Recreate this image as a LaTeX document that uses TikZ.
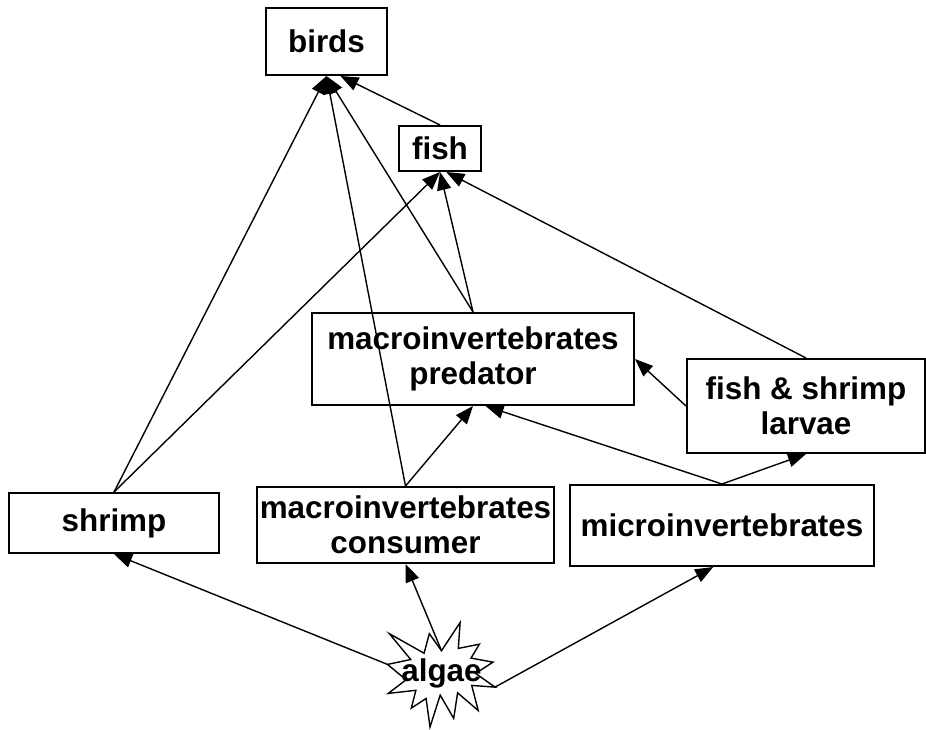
\documentclass[tikz,border=0pt]{standalone}
\usepackage{fontspec}
\setmainfont{Liberation Sans}
\usetikzlibrary{arrows.meta}

\begin{document}
\begin{tikzpicture}[x=0.5pt, y=-0.5pt,
    every node/.style={font=\fontsize{15.7}{17.5}\selectfont\bfseries},
    boite/.style={draw, line width=1pt, inner sep=0pt, align=center},
    fleche/.style={-{Triangle[length=9pt,width=7pt]}, line width=0.7pt}]
        % Cadre
        \useasboundingbox (0,0) rectangle (926,729);

        % Boites
        \node[boite, minimum width=60.5pt, minimum height=33.5pt] (birds) at (326.5,41.5) {birds};
        \node[boite, minimum width=41pt, minimum height=22.5pt] (fish) at (440,148.5) {fish};
        \node[boite, minimum width=161pt, minimum height=46pt] (predator) at (473,359) {macroinvertebrates\\predator};
        \node[boite, minimum width=119pt, minimum height=47pt] (larvae) at (806,406) {fish \& shrimp\\larvae};
        \node[boite, minimum width=105pt, minimum height=30pt] (shrimp) at (114,523) {shrimp};
        \node[boite, minimum width=148.5pt, minimum height=38pt] (consumer) at (405.5,525) {macroinvertebrates\\consumer};
        \node[boite, minimum width=152pt, minimum height=40.5pt] (micro) at (722,525.5) {microinvertebrates};

        % Algues (explosion)
        \filldraw[fill=white, line width=0.7pt] (441.5,650.7) coordinate (algae-n)
            -- (429.3,633.7) -- (424.1,653.2) -- (389.4,633.7) -- (410.7,659.5)
            -- (387.5,664.4) coordinate (algae-w)
            -- (406.1,679.8) -- (388.2,693.4) -- (415.9,690.3) -- (411.3,708.1)
            -- (426.1,698.5) -- (430.0,727) -- (440.2,695.1) -- (453.7,718.4)
            -- (457.6,692.8) -- (478.2,710.5) -- (471.7,685.4)
            -- (495,687.1) coordinate (algae-e)
            -- (475.6,673.4) -- (493.0,662.1) -- (471.0,658.1) -- (479.4,644.2)
            -- (458.3,648.4) -- (460.1,622.5) -- cycle;
        \node[anchor=base, inner sep=0pt] (algae) at (441.5,681) {algae};

        % Fleches vers birds
        \draw[fleche] (shrimp.north) -- (birds.south);
        \draw[fleche] (consumer.north) -- (birds.south);
        \draw[fleche] (predator.north) -- (birds.south);
        \draw[fleche] (fish.north) -- (birds.-68);

        % Fleches vers fish
        \draw[fleche] (shrimp.north) -- (fish.south);
        \draw[fleche] (predator.north) -- (fish.south);
        \draw[fleche] (larvae.north) -- (fish.-75);

        % Fleches vers predator et larvae
        \draw[fleche] (consumer.north) -- (predator.south);
        \draw[fleche] (micro.north) -- (predator.-75);
        \draw[fleche] (larvae.west) -- (predator.east);
        \draw[fleche] (micro.north) -- (larvae.south);

        % Fleches depuis algae
        \draw[fleche] (algae-w) -- (shrimp.south);
        \draw[fleche] (algae-n) -- (consumer.south);
        \draw[fleche] (algae-e) -- (micro.-102);

    \end{tikzpicture}
\end{document}
